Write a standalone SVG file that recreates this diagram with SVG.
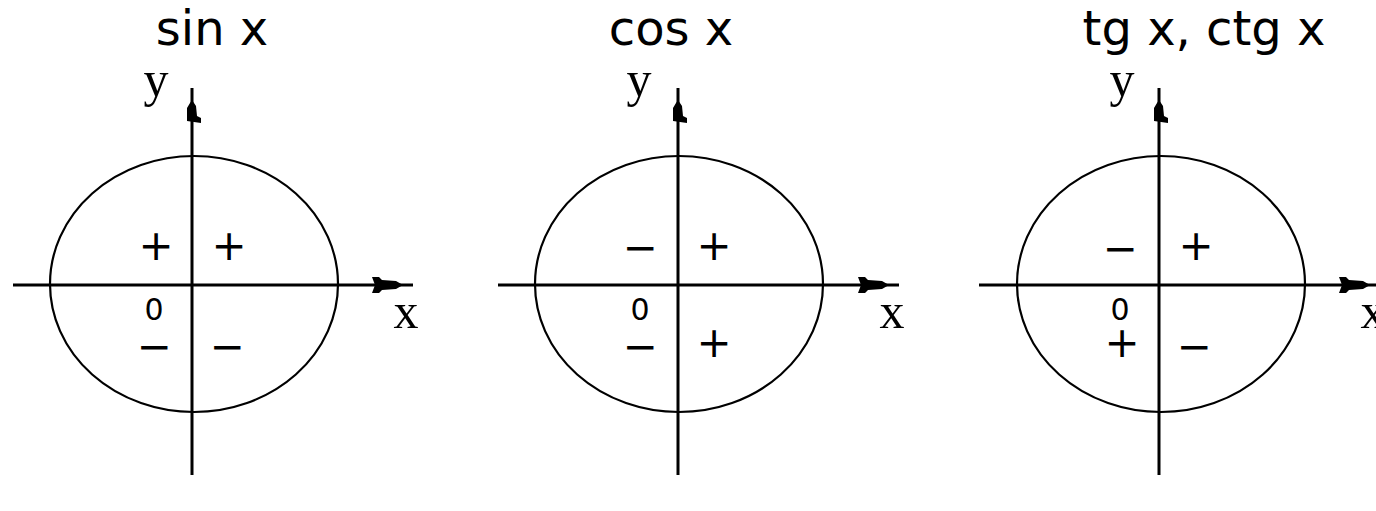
<svg xmlns="http://www.w3.org/2000/svg" width="1376" height="511" viewBox="0 0 1376 511">
<style>
.title{font-family:"DejaVu Sans",sans-serif;font-size:48px;fill:#000;text-anchor:middle}
.ax{font-family:"Liberation Serif",serif;font-size:50px;fill:#000;text-anchor:middle}
.sg{font-family:"DejaVu Sans",sans-serif;font-size:42px;fill:#000;text-anchor:middle}
.zero{font-family:"DejaVu Sans",sans-serif;font-size:30px;fill:#000;text-anchor:middle}
.axis{stroke:#000;stroke-width:3;fill:none}
.circ{stroke:#000;stroke-width:2.2;fill:none}
</style>
<defs>
<polygon id="ah" points="180,-8 187,-8 190,-5 204,-4 211,0 204,4 190,5 187,8 180,8 183,0" fill="#000"/>
<polygon id="av" points="0,100 4,106 5,116 9,118 9,123 -5,121 -5,108 -2,103" fill="#000"/>
</defs>
<rect width="1376" height="511" fill="#fff"/>
<g id="panel-sin">
<text class="title" x="212" y="45">sin x</text>
<ellipse class="circ" cx="194" cy="284" rx="144" ry="128"/>
<line class="axis" x1="13" y1="285" x2="413" y2="285"/>
<line class="axis" x1="192" y1="88" x2="192" y2="475"/>
<use href="#ah" transform="translate(192,285)"/>
<use href="#av" transform="translate(192,0)"/>
<text class="ax" x="156" y="96">y</text>
<text class="ax" x="406" y="328">x</text>
<text class="sg" x="156" y="260">+</text>
<text class="sg" x="229" y="260">+</text>
<text class="zero" x="154" y="320">0</text>
<text class="sg" x="154" y="361">−</text>
<text class="sg" x="227" y="361">−</text>
</g>
<g id="panel-cos">
<text class="title" x="671" y="45">cos x</text>
<ellipse class="circ" cx="679" cy="284" rx="144" ry="128"/>
<line class="axis" x1="498" y1="285" x2="899" y2="285"/>
<line class="axis" x1="678" y1="88" x2="678" y2="475"/>
<use href="#ah" transform="translate(678,285)"/>
<use href="#av" transform="translate(678,0)"/>
<text class="ax" x="639" y="96">y</text>
<text class="ax" x="892" y="328">x</text>
<text class="sg" x="640" y="262">−</text>
<text class="sg" x="714" y="260">+</text>
<text class="zero" x="640" y="320">0</text>
<text class="sg" x="640" y="361">−</text>
<text class="sg" x="714" y="357">+</text>
</g>
<g id="panel-tg">
<text class="title" x="1204" y="45">tg x, ctg x</text>
<ellipse class="circ" cx="1161" cy="284" rx="144" ry="128"/>
<line class="axis" x1="979" y1="285" x2="1380" y2="285"/>
<line class="axis" x1="1159" y1="88" x2="1159" y2="475"/>
<use href="#ah" transform="translate(1159,285)"/>
<use href="#av" transform="translate(1159,0)"/>
<text class="ax" x="1122" y="96">y</text>
<text class="ax" x="1373" y="328">x</text>
<text class="sg" x="1120" y="263">−</text>
<text class="sg" x="1196" y="260">+</text>
<text class="zero" x="1120" y="320">0</text>
<text class="sg" x="1122" y="357">+</text>
<text class="sg" x="1194" y="361">−</text>
</g>
</svg>
